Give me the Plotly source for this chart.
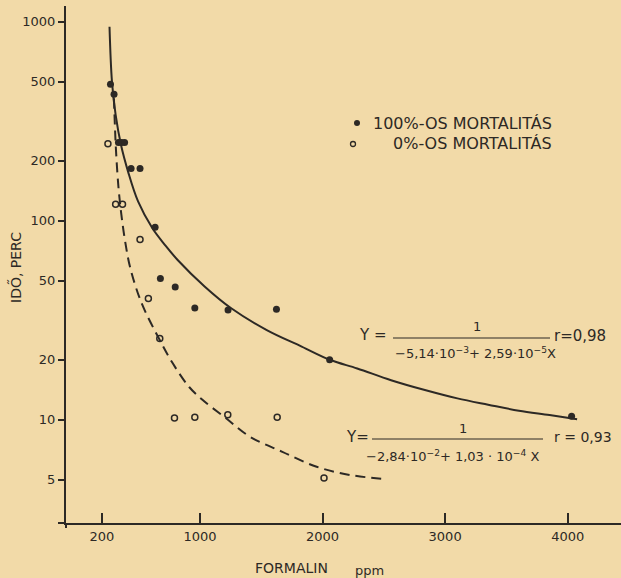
import plotly.graph_objects as go

# ---------------- data ----------------
x_ticks = [200, 1000, 2000, 3000, 4000]
y_ticks = [5, 10, 20, 50, 100, 200, 500, 1000]

# 100 % mortality (filled dots)
full_x = [270, 299, 335, 360, 385, 438, 511, 634, 677, 798, 958, 1229, 1624, 2058, 4032]
full_y = [485, 432, 247, 247, 247, 183, 183, 92.6, 51.2, 46.4, 36.4, 35.6, 35.9, 20.0, 10.4]

# 0 % mortality (open circles)
zero_x = [249, 312, 368, 511, 579, 672, 792, 958, 1227, 1630, 2012]
zero_y = [244, 121, 121, 80.4, 40.6, 25.6, 10.2, 10.3, 10.6, 10.3, 5.1]

# fitted curve for 100 % (solid)
fit100_x = [262, 282, 312, 356, 414, 495, 612, 715, 818, 1040, 1255, 1545, 1830, 2064,
            2283, 2559, 2835, 3100, 3351, 3602, 3852, 4077]
fit100_y = [944, 500, 340, 240, 176, 125, 91.6, 75.5, 63.5, 46.6, 36.3, 28.2, 23.3, 19.95,
            18.1, 15.8, 14.1, 12.8, 11.9, 11.1, 10.55, 10.05]

# fitted curve for 0 % (dashed)
fit0_x = [298, 314, 336, 359, 390, 432, 524, 658, 778, 912, 1020, 1210, 1410, 1672, 1952, 2229, 2504]
fit0_y = [412, 231, 145, 107, 78.4, 57.7, 38.5, 26.1, 19.2, 14.6, 12.6, 10.2, 8.2, 6.9, 5.8, 5.27, 5.04]

legend_labels = ["100%-OS MORTALITÁS", "0%-OS MORTALITÁS"]

# ---------------- styling ----------------
W, H = 621, 578
L, T, B, R = 66, 6, 55, 0
PW, PH = W - L - R, H - T - B
BG = "#F2DAA8"
INK = "#2d2925"
FONT = "DejaVu Sans"


def px(xp):
    return (xp - L) / PW


def py(yp):
    return (H - B - yp) / PH


fig = go.Figure()

fig.add_trace(go.Scatter(x=fit100_x, y=fit100_y, mode="lines", line=dict(color=INK, width=2, shape="spline"),
                         showlegend=False, hoverinfo="skip"))
fig.add_trace(go.Scatter(x=fit0_x, y=fit0_y, mode="lines",
                         line=dict(color=INK, width=2, dash="10px,6px", shape="spline"),
                         showlegend=False, hoverinfo="skip"))
fig.add_trace(go.Scatter(x=full_x, y=full_y, mode="markers", name=legend_labels[0],
                         marker=dict(symbol="circle", size=7, color=INK), showlegend=False))
fig.add_trace(go.Scatter(x=zero_x, y=zero_y, mode="markers", name=legend_labels[1],
                         marker=dict(symbol="circle-open", size=6, color=INK, line=dict(width=1.5)),
                         showlegend=False))

ann = []
def text(xp, yp, s, size=13, xanchor="center", angle=0):
    ann.append(dict(x=px(xp), y=py(yp), xref="paper", yref="paper", text=s, showarrow=False,
                    xanchor=xanchor, yanchor="middle", textangle=angle,
                    font=dict(family=FONT, size=size, color=INK)))

# legend
text(554, 123, legend_labels[0], 16, "right")
text(554, 143, legend_labels[1], 16, "right")

# equation 1
text(373, 335, "Y =", 15)
text(477, 326, "1", 13)
text(475, 353, "−5,14·10<sup>−3</sup>+ 2,59·10<sup>−5</sup>X", 13)
text(552, 336, "r=0,98", 15, "left")

# equation 2
text(357, 437, "Y=", 15)
text(463, 428, "1", 13)
text(452, 456, "−2,84·10<sup>−2</sup>+ 1,03 · 10<sup>−4</sup> X", 13)
text(552, 437, "r = 0,93", 14, "left")

# axis titles
text(15, 268, "IDŐ, PERC", 14, angle=-90)
text(291, 568, "FORMALIN", 14)
text(369, 570, "ppm", 13)

shapes = [
    dict(type="line", xref="paper", yref="paper", x0=px(393), x1=px(550), y0=py(338), y1=py(338),
         line=dict(color=INK, width=1)),
    dict(type="line", xref="paper", yref="paper", x0=px(372), x1=px(543), y0=py(439), y1=py(439),
         line=dict(color=INK, width=1)),
    # axis line extensions
    dict(type="line", xref="paper", yref="paper", x0=px(58), x1=px(66), y0=py(523), y1=py(523),
         line=dict(color=INK, width=2)),
    dict(type="line", xref="paper", yref="paper", x0=px(66), x1=px(66), y0=py(523), y1=py(528),
         line=dict(color=INK, width=2)),
    # legend symbols
    dict(type="circle", xref="paper", yref="paper", x0=px(354), x1=px(360), y0=py(120), y1=py(126),
         fillcolor=INK, line=dict(color=INK, width=0)),
    dict(type="circle", xref="paper", yref="paper", x0=px(350.5), x1=px(355.5), y0=py(141.5), y1=py(146.5),
         line=dict(color=INK, width=1.3)),
]

fig.update_layout(
    width=W, height=H,
    margin=dict(l=L, r=R, t=T, b=B),
    paper_bgcolor=BG, plot_bgcolor=BG,
    annotations=ann, shapes=shapes,
    showlegend=False,
    font=dict(family=FONT, color=INK),
)
fig.update_xaxes(range=[-93, 4435], tickvals=x_ticks, ticktext=[str(v) for v in x_ticks],
                 showgrid=False, zeroline=False, showline=True, linecolor=INK, linewidth=2,
                 ticks="inside", ticklen=10, tickwidth=1.5, tickcolor=INK,
                 tickfont=dict(family=FONT, size=13, color=INK))
fig.update_yaxes(type="log", range=[0.481, 3.079], tickvals=y_ticks, ticktext=[str(v) for v in y_ticks],
                 showgrid=False, zeroline=False, showline=True, linecolor=INK, linewidth=2,
                 ticks="outside", ticklen=6, tickwidth=1.5, tickcolor=INK,
                 tickfont=dict(family=FONT, size=13, color=INK))

fig.write_html("out.html")
